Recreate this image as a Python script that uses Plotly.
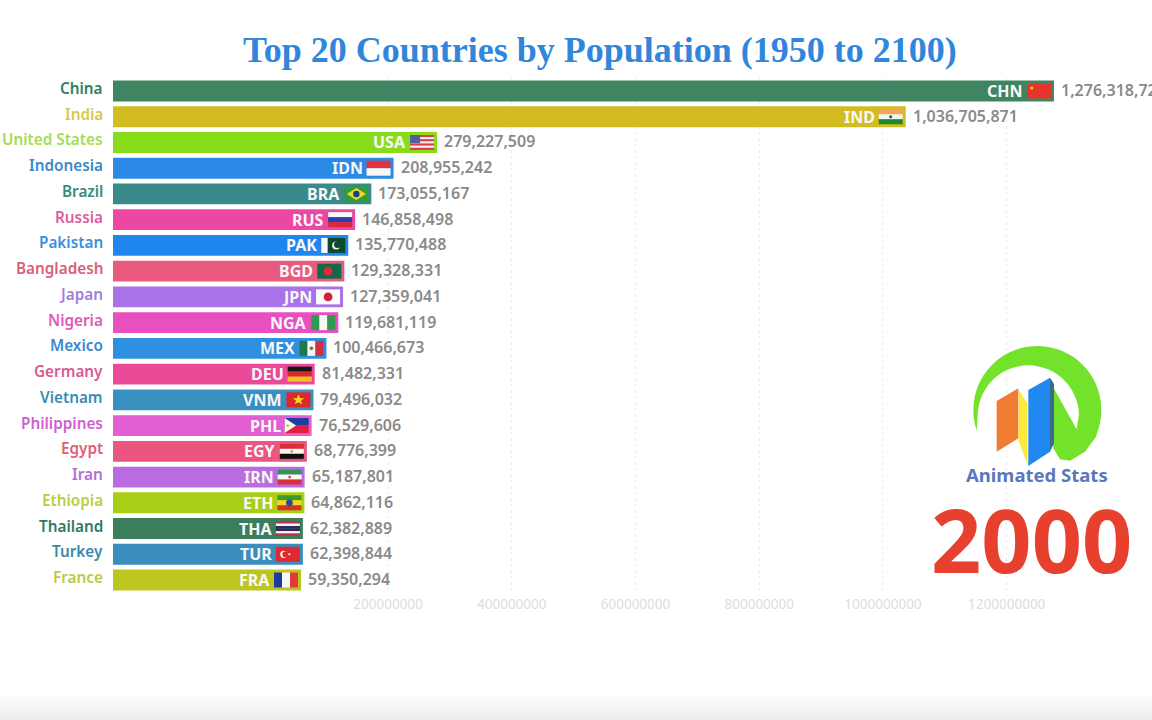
import math
import plotly.graph_objects as go

TITLE = "Top 20 Countries by Population (1950 to 2100)"
YEAR = "2000"
BRAND = "Animated Stats"
countries = ["China", "India", "United States", "Indonesia", "Brazil", "Russia", "Pakistan", "Bangladesh",
             "Japan", "Nigeria", "Mexico", "Germany", "Vietnam", "Philippines", "Egypt", "Iran",
             "Ethiopia", "Thailand", "Turkey", "France"]
codes = ["CHN", "IND", "USA", "IDN", "BRA", "RUS", "PAK", "BGD", "JPN", "NGA",
         "MEX", "DEU", "VNM", "PHL", "EGY", "IRN", "ETH", "THA", "TUR", "FRA"]
population = [1276318720, 1036705871, 279227509, 208955242, 173055167, 146858498, 135770488, 129328331,
              127359041, 119681119, 100466673, 81482331, 79496032, 76529606, 68776399, 65187801,
              64862116, 62382889, 62398844, 59350294]
bar_colors = ["#3f8562", "#d2bc22", "#89dc1a", "#2a8ae6", "#3b8a8a", "#ec48a3", "#1e86ee", "#ea5a7e",
              "#a873e8", "#e84fbf", "#2f8fe0", "#eb4a99", "#388fc0", "#e35dd3", "#ea5680", "#bb6be0",
              "#a8cf15", "#3c7d5c", "#3a8dbc", "#bdc61f"]
label_colors = ["#2f7d63", "#d8c84f", "#a5dc55", "#3a8ac8", "#3a8a80", "#dc5c9c", "#3a90dc", "#d8607a",
                "#a07ee0", "#e058b8", "#3a88d0", "#d85a90", "#3a8ab8", "#cf60d0", "#dc6078", "#b070d8",
                "#b8d040", "#2f7a60", "#3a88a8", "#bcc848"]
tick_values = [200000000, 400000000, 600000000, 800000000, 1000000000, 1200000000]
tick_labels = ["200000000", "400000000", "600000000", "800000000", "1000000000", "1200000000"]

AXIS_LEFT = -244.5e6
AXIS_RIGHT = 1434.8e6
W, H = 1152, 720
ML, MT, MB = 113, 78, 125
SANS = "Noto Sans"


def bands(colors, vertical=False):
    n = len(colors)
    return [("r", i / n, 0, (i + 1) / n, 1, c) if vertical else ("r", 0, i / n, 1, (i + 1) / n, c)
            for i, c in enumerate(colors)]


def dot(cx, cy, r, c):
    return ("c", cx, cy, r, c)


flags = {
    "CHN": bands(["#e8342a"]) + [dot(.2, .3, 1.5, "#f4d020")],
    "IND": bands(["#f5a35a", "#f4f4f0", "#1d8a2a"]) + [dot(.5, .5, 1.6, "#3a4a9a")],
    "USA": bands(["#d8404a", "#f6eeee", "#d8404a", "#f6eeee", "#d8404a", "#f6eeee", "#d8404a"])
           + [("r", 0, 0, .42, .55, "#4f5f9f")],
    "IDN": bands(["#e8333a", "#fbf6f6"]),
    "BRA": bands(["#2f9e3a"]) + [("p", [(.1, .5), (.5, .1), (.9, .5), (.5, .9)], "#f0d820"), dot(.5, .5, 3.2, "#1d3f8a")],
    "RUS": bands(["#f8f8f8", "#2a3fb0", "#d82a3a"]),
    "PAK": [("r", 0, 0, .27, 1, "#f8f8f8"), ("r", .27, 0, 1, 1, "#0e4a2a"),
            dot(.62, .5, 4, "#f4f4f4"), dot(.68, .44, 3.6, "#0e4a2a")],
    "BGD": bands(["#0f6a4a"]) + [dot(.45, .5, 4.5, "#e02a3a")],
    "JPN": bands(["#fbfbfb"]) + [dot(.5, .5, 4.4, "#d0203a")],
    "NGA": bands(["#2f9a50", "#f6f6f6", "#2f9a50"], True),
    "MEX": bands(["#1f7a4a", "#f6f6f6", "#d03040"], True) + [dot(.5, .5, 1.8, "#8a6a3a")],
    "DEU": bands(["#151515", "#d82a2a", "#f5c020"]),
    "VNM": bands(["#dc2a2a"]) + [("p", [(.5, .15), (.57, .4), (.74, .4), (.6, .56), (.66, .8),
                                         (.5, .66), (.34, .8), (.4, .56), (.26, .4), (.43, .4)], "#f6dc20")],
    "PHL": bands(["#1a3fa0", "#e0203a"]) + [("p", [(0, 0), (.48, .5), (0, 1)], "#f8f8f8"), dot(.13, .5, 1.6, "#e8c830")],
    "EGY": bands(["#d8303a", "#f8f6f4", "#101010"]) + [dot(.5, .5, 1.4, "#c0a040")],
    "IRN": bands(["#2a9a50", "#f8f8f8", "#d8303a"]) + [dot(.5, .5, 1.4, "#d04050")],
    "ETH": bands(["#3a9a2a", "#f0d820", "#d8302a"]) + [dot(.5, .5, 3.4, "#2a4aa0")],
    "THA": bands(["#c83040", "#f4f4f4", "#2a2a60", "#2a2a60", "#f4f4f4", "#c83040"]),
    "TUR": bands(["#e02a30"]) + [dot(.33, .5, 3.6, "#f8f8f8"), dot(.39, .5, 2.9, "#e02a30"), dot(.56, .5, 1.1, "#f8f8f8")],
    "FRA": bands(["#1e3a9a", "#f8f8f8", "#e03a3a"], True),
}

FL, FR, FH = -27, -3, 7.5  # flag extent in pixels around the bar end / row centre


def flag_shapes(country, value, code):
    w = FR - FL
    px = lambda f: FL + f * w
    py = lambda f: FH - f * 2 * FH
    base = dict(xref="x", yref="y", xsizemode="pixel", ysizemode="pixel", xanchor=value, yanchor=country, line_width=0)
    out = []
    for e in flags[code]:
        if e[0] == "r":
            out.append(dict(type="rect", x0=px(e[1]), x1=px(e[3]), y0=py(e[2]), y1=py(e[4]), fillcolor=e[5], **base))
        elif e[0] == "c":
            out.append(dict(type="circle", x0=px(e[1]) - e[3], x1=px(e[1]) + e[3],
                            y0=py(e[2]) - e[3], y1=py(e[2]) + e[3], fillcolor=e[4], **base))
        else:
            d = "M" + " L".join(f"{px(a):.2f} {py(b):.2f}" for a, b in e[1]) + " Z"
            out.append(dict(type="path", path=d, fillcolor=e[2], **base))
    return out


plot_h = H - MT - MB
plot_w = W - ML


def logo_path(points):
    """Logo outline in the coordinates of a 3x crop at (920,340); mapped onto paper coordinates."""
    conv = []
    for zx, zy in points:
        px_ = 920 + zx / 3
        py_ = 340 + zy / 3
        conv.append(((px_ - ML) / plot_w, (H - MB - py_) / plot_h))
    return "M" + " L".join(f"{a:.5f} {b:.5f}" for a, b in conv) + " Z"


def arc(cx, cy, r, a0, a1, n=40):
    return [(cx + r * math.cos(math.radians(a0 + (a1 - a0) * i / n)),
             cy + r * math.sin(math.radians(a0 + (a1 - a0) * i / n))) for i in range(n + 1)]


ring = ([(170, 272)] + arc(352, 210, 192, 165, 378, 40)
        + [(528, 290), (495, 335), (450, 362), (420, 358), (400, 325), (393, 130), (470, 268)]
        + arc(325, 228, 152, -2, -178, 30))

logo_parts = [
    ("#72e32a", ring),
    ("#ef7d32", [(230, 183), (295, 145), (295, 295), (230, 335)]),
    ("#ffe93b", [(297, 150), (322, 190), (322, 372), (295, 300)]),
    ("#2089f0", [(325, 150), (390, 113), (390, 335), (325, 378)]),
    ("#3d6a8a", [(390, 113), (402, 132), (402, 310), (390, 335)]),
]

fig = go.Figure(go.Bar(
    x=[v - AXIS_LEFT for v in population], y=countries, base=AXIS_LEFT, orientation="h",
    marker=dict(color=bar_colors, line_width=0), width=0.81, hoverinfo="skip",
))

shapes = []
for i in range(6):
    y0 = H - 25 + i * 25 / 6
    shapes.append(dict(type="rect", xref="paper", yref="paper", x0=-ML / plot_w, x1=1,
                       y0=(H - MB - y0) / plot_h, y1=(H - MB - H) / plot_h, line_width=0,
                       fillcolor="rgba(120,120,120,0.022)", layer="below"))
for c, v, code in zip(countries, population, codes):
    shapes += flag_shapes(c, v, code)
for color, pts in logo_parts:
    shapes.append(dict(type="path", xref="paper", yref="paper", path=logo_path(pts), fillcolor=color, line_width=0))

ann = []
for c, v, code, lc in zip(countries, population, codes, label_colors):
    ann.append(dict(x=0, xref="paper", y=c, yref="y", xanchor="right", xshift=-8, yshift=3, text=c, showarrow=False,
                    font=dict(family=SANS, size=15.3, color=lc, weight=600)))
    ann.append(dict(x=v, xref="x", y=c, yref="y", xanchor="right", xshift=-29, yshift=0, text=code, showarrow=False,
                    font=dict(family=SANS, size=16, color="#f8f8f8", weight=700)))
    ann.append(dict(x=v, xref="x", y=c, yref="y", xanchor="left", xshift=5, yshift=1, text=f"{v:,}", showarrow=False,
                    font=dict(family=SANS, size=16, color="#8a8a8a", weight=600)))


def paper_x(px_):
    return (px_ - ML) / plot_w


def paper_y(py_):
    return (H - MB - py_) / plot_h


center = dict(xanchor="center", yanchor="middle", xref="paper", yref="paper", showarrow=False)
ann.append(dict(x=paper_x(600), y=paper_y(50), text=f"<b>{TITLE}</b>",
                font=dict(family="Liberation Serif", size=36, color="#2f86dc"), **center))
ann.append(dict(x=paper_x(1037), y=paper_y(474), text=f"<b>{BRAND}</b>",
                font=dict(family=SANS, size=18.5, color="#5a78bc"), **center))
ann.append(dict(x=paper_x(1031), y=paper_y(539), text=f"<b>{YEAR}</b>",
                font=dict(family=SANS, size=88, color="#e8402f"), **center))

fig.update_layout(
    width=W, height=H, margin=dict(l=ML, r=0, t=MT, b=MB, pad=0), showlegend=False,
    paper_bgcolor="#ffffff", plot_bgcolor="#ffffff", shapes=shapes, annotations=ann,
    xaxis=dict(range=[AXIS_LEFT, AXIS_RIGHT], tickvals=tick_values, ticktext=tick_labels, showline=False,
               zeroline=False, showgrid=True, gridcolor="#ececf0", griddash="dot", gridwidth=1,
               ticks="", ticklabelstandoff=-1,
               tickfont=dict(family=SANS, size=13.5, color="#dcdce2")),
    yaxis=dict(categoryorder="array", categoryarray=countries, autorange="reversed", showticklabels=False,
               showgrid=False, zeroline=False, showline=False, ticks=""),
)
fig.write_html("out.html", config={"displayModeBar": False},
               post_script="document.body.style.margin='0';document.body.style.overflow='hidden';")
